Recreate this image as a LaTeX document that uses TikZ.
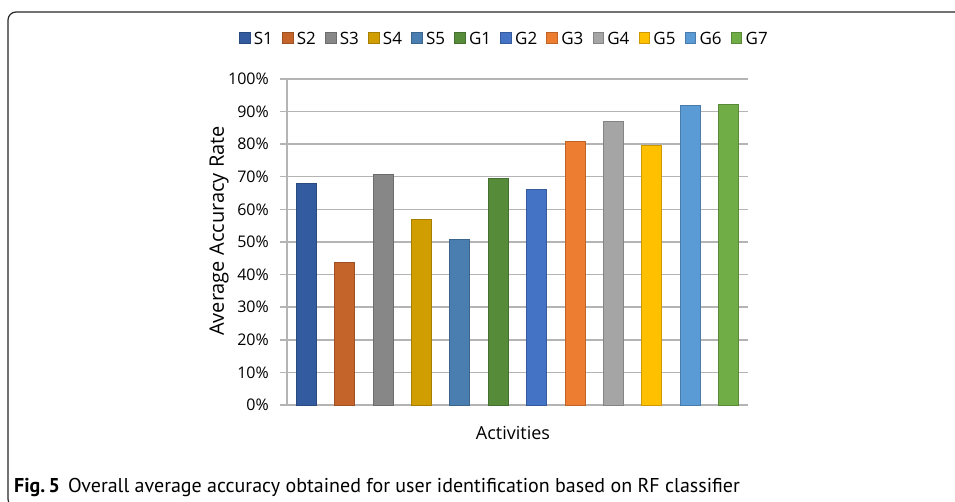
\documentclass[tikz,border=0pt]{standalone}
\usepackage{fontspec}
\setmainfont{Open Sans}
\newfontfamily\capfont{PT Sans}
\usetikzlibrary{positioning}

% series colours
\definecolor{cS1}{HTML}{335B9F}
\definecolor{cS2}{HTML}{C4642A}
\definecolor{cS3}{HTML}{878787}
\definecolor{cS4}{HTML}{D09E00}
\definecolor{cS5}{HTML}{4A7EB0}
\definecolor{cG1}{HTML}{568B3A}
\definecolor{cG2}{HTML}{4472C4}
\definecolor{cG3}{HTML}{ED7D31}
\definecolor{cG4}{HTML}{A5A5A5}
\definecolor{cG5}{HTML}{FFC000}
\definecolor{cG6}{HTML}{5B9BD5}
\definecolor{cG7}{HTML}{70AD47}
\definecolor{gridgray}{HTML}{B4B4B4}

\begin{document}
\begin{tikzpicture}[
    x=1pt, y=-1pt,
    frame/.style={draw=black!85, line width=1.2pt, rounded corners=8pt},
    grid/.style={draw=gridgray, line width=1.4pt},
    bar/.style={line width=0.8pt},
    ticklabel/.style={anchor=east, inner sep=0pt, font=\fontsize{16}{18}\selectfont},
    axtitle/.style={inner sep=0pt, font=\fontsize{18}{20}\selectfont},
    legsq/.style={draw, line width=0.6pt, minimum size=10.5pt, inner sep=0pt},
    legtext/.style={inner sep=0pt, font=\fontsize{17}{19}\selectfont},
    caption/.style={anchor=west, inner sep=0pt, font=\capfont\fontsize{20}{22}\selectfont}
]
\useasboundingbox (0,0) rectangle (955,502);
\clip (0,0) rectangle (955,502);

% panel border
\draw[frame] (965,12) -- (8,12) -- (8,507) -- (40,507);

% grid and y ticks
\foreach \k in {0,...,10} {
    \draw[grid] (280,405-32.6*\k) -- (748,405-32.6*\k);
    \pgfmathtruncatemacro{\pc}{10*\k}
    \node[ticklabel] (t\k) at (269,405-32.6*\k) {\pc\%};
}
\draw[grid] (287,79) -- (287,405);

% bars
\foreach \n/\v [count=\i] in {S1/68.0,S2/43.6,S3/70.8,S4/56.8,S5/50.9,G1/69.6,
                              G2/66.0,G3/81.0,G4/87.0,G5/79.7,G6/91.9,G7/92.1} {
    \draw[bar, fill=c\n, draw=c\n!80!black]
        (287+38.4*\i-29.2,405) rectangle (287+38.4*\i-9.2,405-3.26*\v);
}

% legend
\coordinate (lt0) at (230,38);
\foreach \n [count=\i] in {S1,S2,S3,S4,S5,G1,G2,G3,G4,G5,G6,G7} {
    \pgfmathtruncatemacro{\p}{\i-1}
    \node[legsq, fill=c\n, draw=c\n!80!black, right=9pt of lt\p] (lq\i) {};
    \node[legtext, right=3.5pt of lq\i] (lt\i) {\n};
}

% axis titles
\node[axtitle, rotate=90, font=\fontsize{20}{22}\selectfont] (ytitle) at (219,231) {Average Accuracy Rate};
\node[axtitle] (xtitle) at (513,433) {Activities};

% caption
\node[caption] (cap) at (14,487) {\textbf{Fig.\,5}\hspace{8pt}Overall average accuracy obtained for user identification based on RF classifier};
\end{tikzpicture}
\end{document}
